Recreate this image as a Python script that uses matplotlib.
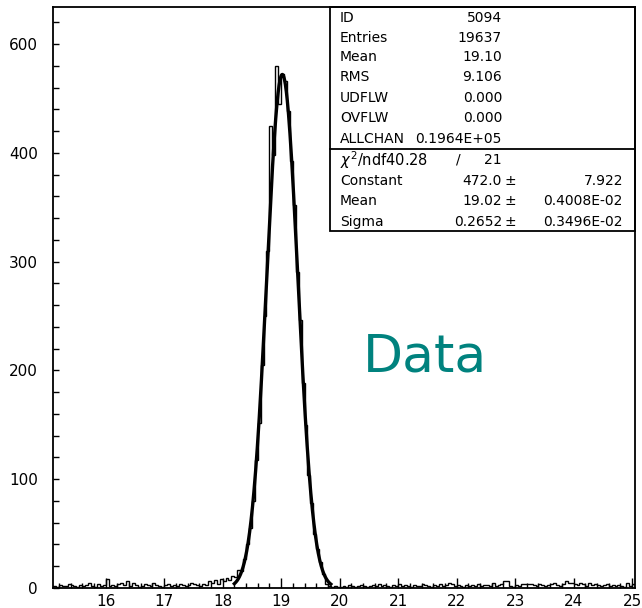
import numpy as np
import matplotlib
matplotlib.use("Agg")
import matplotlib.pyplot as plt
from matplotlib.ticker import FixedLocator, FixedFormatter, MultipleLocator

# histogram: 199 bins of 0.05 from 15.10 to 25.05
bin_lo, bin_hi, n_bins = 15.10, 25.05, 199

counts_low = [2, 1, 3, 2, 2, 4, 3, 2, 1, 3,
              2, 3, 5, 2, 1, 4, 2, 3, 8, 2,
              3, 2, 4, 5, 3, 6, 2, 5, 3, 1,
              2, 4, 3, 2, 5, 3, 2, 1, 3, 4,
              2, 3, 2, 4, 3, 2, 3, 5, 4, 3,
              2, 4, 3, 6, 5, 7, 4, 8]
counts_peak = [6, 9, 7, 11, 10, 17, 16, 27, 40, 55,
               80, 118, 152, 205, 250, 310, 425, 398, 480, 445,
               472, 466, 438, 392, 352, 290, 246, 188, 150, 104,
               78, 50, 36, 24, 13, 4, 2, 1, 2, 1]
counts_high = [1, 2, 1, 3, 2, 1, 2, 3, 2, 1,
               2, 3, 2, 4, 2, 3, 2, 1, 3, 2,
               4, 2, 3, 2, 1, 3, 2, 2, 4, 3,
               2, 1, 3, 2, 4, 2, 3, 5, 4, 2,
               3, 2, 1, 3, 2, 3, 2, 4, 2, 3,
               3, 2, 5, 2, 3, 4, 6, 6, 2, 1,
               3, 2, 4, 4, 4, 4, 3, 2, 4, 3,
               2, 3, 4, 5, 3, 2, 4, 6, 5, 5,
               4, 3, 5, 4, 2, 5, 3, 4, 3, 2,
               3, 4, 2, 3, 2, 3, 2, 1, 5, 2,
               4]

# gaussian fit parameters (from stats box)
fit_const, fit_mean, fit_sigma = 472.0, 19.02, 0.2652
fit_lo, fit_hi = 18.2, 19.85

y_tick_vals = [0, 100, 200, 300, 400, 500]
y_tick_labels = ["0", "100", "200", "300", "400", "600"]
x_tick_vals = [16, 17, 18, 19, 20, 21, 22, 23, 24, 25]

stats_top = [("ID", "5094"), ("Entries", "19637"), ("Mean", "19.10"),
             ("RMS", "9.106"), ("UDFLW", "0.000"), ("OVFLW", "0.000"),
             ("ALLCHAN", "0.1964E+05")]
fit_rows = [("Constant", "472.0", "7.922"),
            ("Mean", "19.02", "0.4008E-02"),
            ("Sigma", "0.2652", "0.3496E-02")]

W, H = 642, 608


def fx(px):
    return px / W


def fy(py):
    return 1 - py / H


counts = np.array(counts_low + counts_peak + counts_high)
edges = np.linspace(bin_lo, bin_hi, n_bins + 1)

fig = plt.figure(figsize=(W / 100, H / 100), dpi=100)
ax = fig.add_axes([fx(53), fy(588), fx(635) - fx(53), fy(7) - fy(588)])

ax.stairs(counts, edges, color="black", lw=1.0)
xf = np.linspace(fit_lo, fit_hi, 400)
ax.plot(xf, fit_const * np.exp(-0.5 * ((xf - fit_mean) / fit_sigma) ** 2),
        color="black", lw=2.4)

ax.set_xlim(15.1, 25.05)
ax.set_ylim(0, 534)

ax.xaxis.set_major_locator(FixedLocator(x_tick_vals))
ax.xaxis.set_minor_locator(MultipleLocator(0.2))
ax.yaxis.set_major_locator(FixedLocator(y_tick_vals))
ax.yaxis.set_major_formatter(FixedFormatter(y_tick_labels))
ax.yaxis.set_minor_locator(MultipleLocator(20))

ax.tick_params(axis="x", which="major", direction="in", length=7, width=1,
               labelsize=11, pad=4)
ax.tick_params(axis="x", which="minor", direction="in", length=3.6, width=1)
ax.tick_params(axis="y", which="both", direction="in", length=4.3, width=1,
               labelsize=11, pad=11)
for s in ax.spines.values():
    s.set_linewidth(1.3)

# stats box
fig.add_artist(plt.Rectangle((fx(330), fy(231)), fx(635) - fx(330), fy(7) - fy(231),
                             transform=fig.transFigure, fill=False, lw=1.3, color="black"))
fig.add_artist(plt.Line2D([fx(330), fx(635)], [fy(149), fy(149)],
                          transform=fig.transFigure, lw=1.3, color="black"))

fs = 10
row_y = [18, 38, 57, 77, 98, 118, 139]
for (lab, val), py in zip(stats_top, row_y):
    fig.text(fx(340), fy(py), lab, fontsize=fs, ha="left", va="center")
    fig.text(fx(502), fy(py), val, fontsize=fs, ha="right", va="center")

fig.text(fx(340), fy(160), r"$\chi^2$/ndf40.28", fontsize=10.5, ha="left", va="center")
fig.text(fx(458), fy(160), "/", fontsize=fs, ha="center", va="center")
fig.text(fx(502), fy(160), "21", fontsize=fs, ha="right", va="center")
for (lab, val, err), py in zip(fit_rows, [181, 201, 222]):
    fig.text(fx(340), fy(py), lab, fontsize=fs, ha="left", va="center")
    fig.text(fx(502), fy(py), val, fontsize=fs, ha="right", va="center")
    fig.text(fx(505), fy(py), "\u00b1", fontsize=fs, ha="left", va="center")
    fig.text(fx(623), fy(py), err, fontsize=fs, ha="right", va="center")

fig.text(fx(363), fy(372), "Data", fontsize=37.5, color="#00827e",
         ha="left", va="baseline")

fig.savefig("out.png", dpi=100)
